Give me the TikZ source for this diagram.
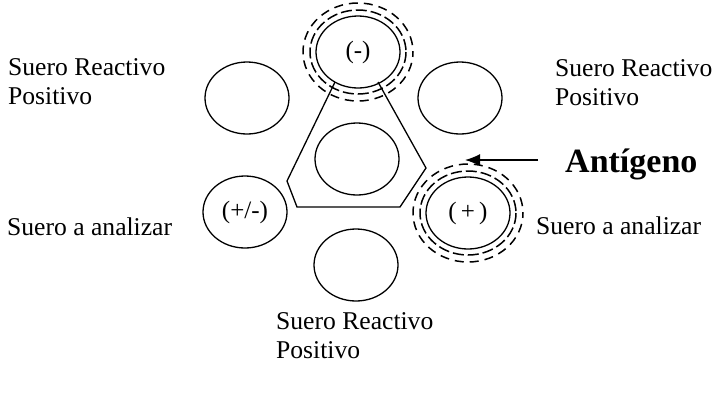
\documentclass[tikz,border=0pt]{standalone}
\usepackage{fontspec}
\setmainfont{Liberation Serif}
\usetikzlibrary{shapes.geometric,arrows.meta}
\begin{document}
\begin{tikzpicture}[x=1pt,y=-1pt,
  well/.style={draw,ellipse,line width=1.3pt,minimum width=84pt,minimum height=72pt,inner sep=0pt,
    font=\fontsize{25}{27}\selectfont},
  ringin/.style={line width=1.5pt,dash pattern=on 11pt off 4pt},
  ringout/.style={line width=1.5pt,dash pattern=on 9pt off 6pt,dash phase=4pt},
  lbl/.style={anchor=base west,align=left,inner sep=0pt,font=\fontsize{25.6}{29}\selectfont},
  edge/.style={line width=1.3pt,line join=miter}]
\useasboundingbox (0,0) rectangle (719,394);
% wells of the plate
\node[well] (top) at (358,52) {(-)};
\node[well] (ul) at (247,98) {};
\node[well] (ur) at (460,98) {};
\node[well] (mid) at (357,159) {};
\node[well] (ll) at (245,212) {(+/-)};
\node[well] (lr) at (468,213) {(\,+\,)};
\node[well] (bot) at (356,265) {};
% precipitation rings
\draw[ringin] (top.center) ellipse [x radius=48, y radius=42];
\draw[ringout] (top.center) ellipse [x radius=55, y radius=49];
\draw[ringin] (lr.center) ellipse [x radius=48, y radius=42];
\draw[ringout] (lr.center) ellipse [x radius=55, y radius=49];
% antigen trough
\coordinate (h1) at (335,82);
\coordinate (h2) at (287,181);
\coordinate (h3) at (297,207);
\coordinate (h4) at (400,207);
\coordinate (h5) at (426,168);
\coordinate (h6) at (378,82);
\draw[edge] (h1) -- (h2) -- (h3) -- (h4) -- (h5) -- (h6);
% labels
\node[lbl] (tl) at (8,104) {Suero Reactivo\\Positivo};
\node[lbl] (sl) at (7,235) {Suero a analizar};
\node[lbl] (tr) at (555,105) {Suero Reactivo\\Positivo};
\node[lbl] (sr) at (536,234) {Suero a analizar};
\node[lbl] (bl) at (276,358) {Suero Reactivo\\Positivo};
\node[anchor=base west,inner sep=0pt,font=\fontsize{34}{38}\selectfont\bfseries] (ant) at (565,172) {Antígeno};
\coordinate (arrs) at (538,160);
\coordinate (arre) at (465,160);
\draw[line width=1.3pt,-{Latex[length=15pt,width=12pt]}] (arrs) -- (arre);
\end{tikzpicture}
\end{document}
